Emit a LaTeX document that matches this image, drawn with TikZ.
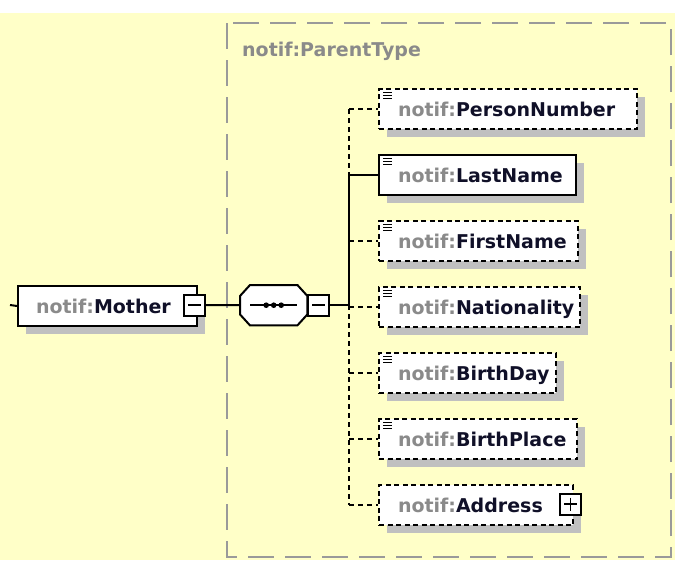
\documentclass[tikz,border=0pt]{standalone}
\usepackage{fontspec}
\setmainfont{DejaVu Sans}
\usetikzlibrary{shadows}
\definecolor{bgyellow}{HTML}{FFFFC8}
\definecolor{framegray}{HTML}{9A9A9A}
\definecolor{nsgray}{HTML}{8A8A8A}
\definecolor{shadowgray}{HTML}{C0C0C0}
\definecolor{namecol}{HTML}{101028}
\newcommand{\nsname}[1]{{\color{nsgray}notif:}{\color{namecol}#1}}
\newcommand{\eltxt}[2]{\makebox[#1][l]{\nsname{#2}}}
\begin{document}
\begin{tikzpicture}[x=1pt,y=-1pt,
  every node/.style={font=\fontsize{19}{22}\selectfont\bfseries},
  shad/.style={general shadow={fill=shadowgray, draw=none, shadow xshift=8pt, shadow yshift=-8pt}},
  elembox/.style={shad, draw=black, fill=white, line width=2pt, rectangle, anchor=north west,
    minimum height=40pt, inner xsep=19pt, inner ysep=0pt, text height=14pt, text depth=0pt},
  optbox/.style={elembox, dash pattern=on 5pt off 3.5pt},
  ctrlbox/.style={draw=black, fill=white, line width=2pt, rectangle, minimum size=21pt, inner sep=0pt},
  minusbox/.style={ctrlbox, path picture={
      \draw[line width=1.8pt] ([xshift=4pt]path picture bounding box.west) -- ([xshift=-4pt]path picture bounding box.east);}},
  plusbox/.style={ctrlbox, path picture={
      \draw[line width=1.8pt] ([xshift=4pt]path picture bounding box.west) -- ([xshift=-4pt]path picture bounding box.east);
      \draw[line width=1.8pt] ([yshift=-4pt]path picture bounding box.north) -- ([yshift=4pt]path picture bounding box.south);}},
  conn/.style={draw=black, line width=2pt},
  optconn/.style={conn, dash pattern=on 5pt off 4pt},
  frame/.style={draw=framegray, line width=2.2pt, dash pattern=on 26pt off 11pt},
  icon/.style={draw=black, line width=0.9pt}
]
\useasboundingbox (0,0) rectangle (675,560);
\fill[white] (0,0) rectangle (675,560);
\fill[bgyellow] (0,13) rectangle (675,560);

% container
\draw[frame] (227,23) rectangle (671,557);
\node[anchor=base west, inner sep=0pt, text=nsgray] (title) at (242,56) {notif:ParentType};

% nodes
\node[elembox, inner xsep=18pt] (mother) at (17,285) {\eltxt{143pt}{Mother}};
\node[rectangle, minimum width=67pt, minimum height=40pt, inner sep=0pt, anchor=north west] (seq) at (240,285) {};
\node[optbox] (pn)   at (378,88)  {\eltxt{220pt}{PersonNumber}};
\node[elembox] (ln)  at (378,154) {\eltxt{159pt}{LastName}};
\node[optbox] (fn)   at (378,220) {\eltxt{161pt}{FirstName}};
\node[optbox] (nat)  at (378,286) {\eltxt{163pt}{Nationality}};
\node[optbox] (bd)   at (378,352) {\eltxt{139pt}{BirthDay}};
\node[optbox] (bp)   at (378,418) {\eltxt{160pt}{BirthPlace}};
\node[optbox] (addr) at (378,484) {\eltxt{156pt}{Address}};

% octagon (sequence compositor)
\fill[shadowgray, shift={(8,8)}]
  ([shift={(10,0)}]seq.north west) -- ([shift={(-10,0)}]seq.north east) -- ([shift={(0,11)}]seq.north east)
  -- ([shift={(0,-11)}]seq.south east) -- ([shift={(-10,0)}]seq.south east) -- ([shift={(10,0)}]seq.south west)
  -- ([shift={(0,-11)}]seq.south west) -- ([shift={(0,11)}]seq.north west) -- cycle;
\draw[fill=white, line width=2pt]
  ([shift={(10,0)}]seq.north west) -- ([shift={(-10,0)}]seq.north east) -- ([shift={(0,11)}]seq.north east)
  -- ([shift={(0,-11)}]seq.south east) -- ([shift={(-10,0)}]seq.south east) -- ([shift={(10,0)}]seq.south west)
  -- ([shift={(0,-11)}]seq.south west) -- ([shift={(0,11)}]seq.north west) -- cycle;
\draw[line width=2pt] ([shift={(-23.5,0)}]seq.center) -- ([shift={(23.5,0)}]seq.center);
\foreach \dx in {-7.5,0,7.5} \fill ([shift={(\dx,0)}]seq.center) circle (2.8pt);

% control boxes
\node[minusbox] (mminus) at (194.5,305) {};
\node[minusbox] (sminus) at (318.5,305) {};
\node[plusbox]  (aplus)  at (570.5,504) {};

% coordinates
\coordinate (inL) at (10,305);
\coordinate (tj) at (349,305);

% connectors
\draw[conn] (inL) -- (mother.west);
\draw[conn] (mminus.east) -- (seq.west);
\draw[conn] (sminus.east) -- (tj);
\draw[optconn] (tj |- pn.west) -- (tj |- ln.west);
\draw[conn] (tj |- ln.west) -- (tj);
\draw[optconn] (tj) -- (tj |- addr.west);
\draw[optconn] (tj |- pn.west) -- (pn.west);
\draw[conn] (tj |- ln.west) -- (ln.west);
\draw[optconn] (tj |- fn.west) -- (fn.west);
\draw[optconn] (tj |- nat.west) -- (nat.west);
\draw[optconn] (tj |- bd.west) -- (bd.west);
\draw[optconn] (tj |- bp.west) -- (bp.west);
\draw[optconn] (tj |- addr.west) -- (addr.west);

% text icons
\foreach \n in {pn,ln,fn,nat,bd,bp}{
  \foreach \dy in {4,7,10}
    \draw[icon] ([shift={(5,\dy)}]\n.north west) -- ([shift={(14,\dy)}]\n.north west);
}
\end{tikzpicture}
\end{document}
